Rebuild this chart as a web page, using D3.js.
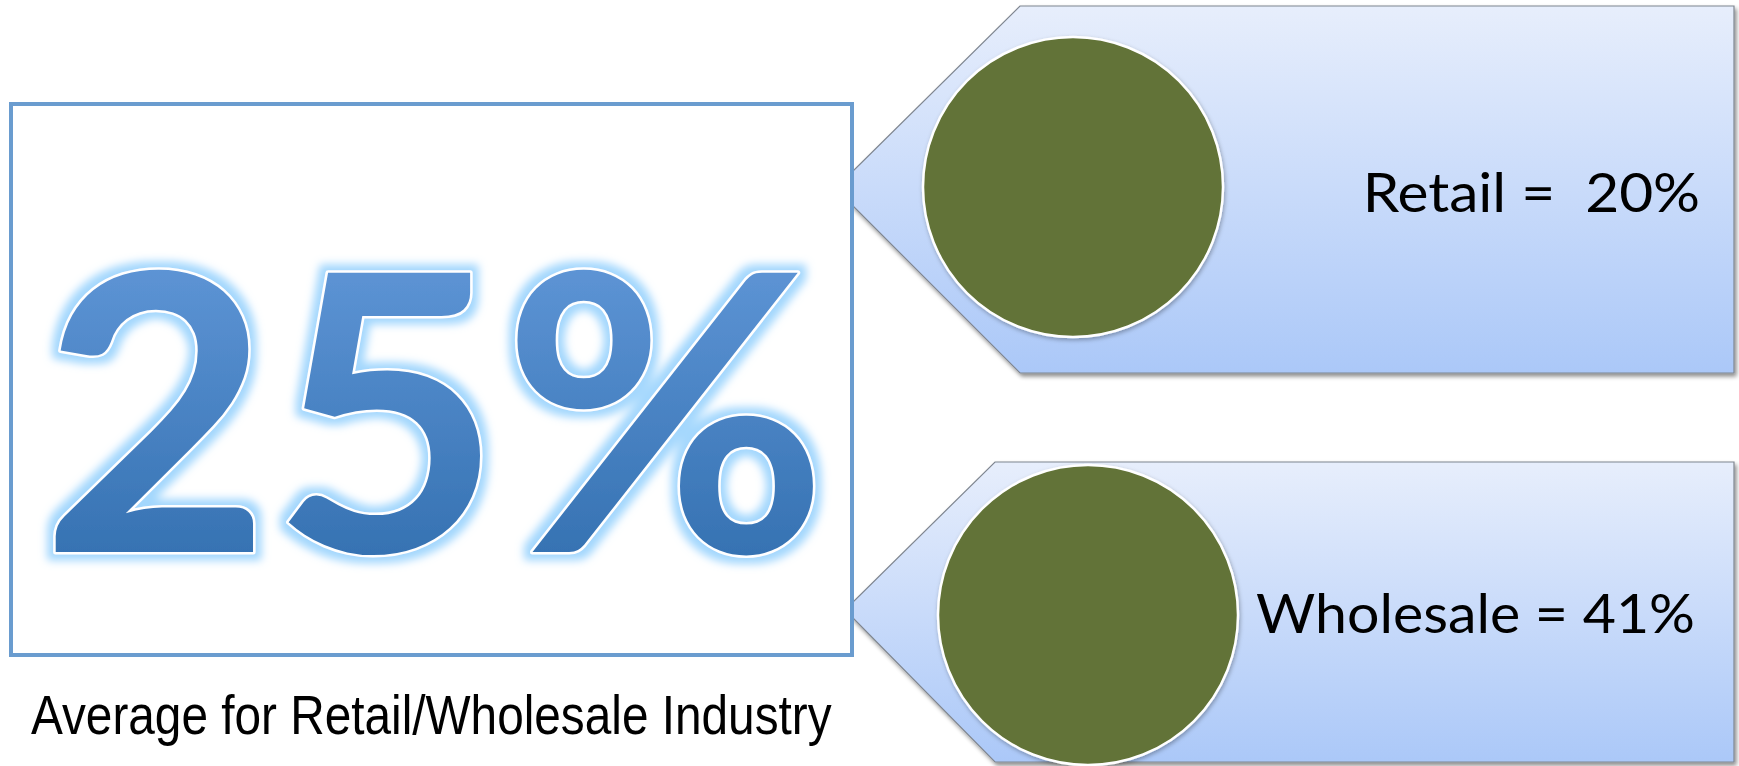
<!DOCTYPE html>
<html>
<head>
<meta charset="utf-8">
<script src="https://cdn.jsdelivr.net/npm/d3@7"></script>
<style>
  html, body { margin: 0; padding: 0; background: #fff; overflow: hidden; }
  svg { display: block; }
  text { white-space: pre; }
</style>
</head>
<body>
<svg id="chart" width="1739" height="766"></svg>
<script>
// ---- data ----
const segments = ["Retail", "Wholesale"];
const segmentRates = [20, 41];
const labelGaps = ["  ", " "];
const industryAverage = 25;
const averageCaption = "Average for Retail/Wholesale Industry";

// ---- layout ----
const W = 1739, H = 766;
const panel = { x: 11, y: 104, w: 841, h: 551 };
const bigNumber = { left: 53, right: 813, top: 270, baseline: 552 };
const caption = { left: 31, right: 832, baseline: 734, cap: 38 };
const callouts = [
  { left: 1020, right: 1734, top: 6, bottom: 373, tipTop: 172, tipBottom: 205,
    cx: 1073, cy: 187, r: 150, textLeft: 1368, textRight: 1698, baseline: 212, cap: 40 },
  { left: 995, right: 1734, top: 462, bottom: 762, tipTop: 603, tipBottom: 617,
    cx: 1088, cy: 615, r: 150, textLeft: 1256, textRight: 1693, baseline: 633, cap: 40 }
];

const rows = segments.map((name, i) => ({
  name, value: segmentRates[i],
  label: `${name} =${labelGaps[i]}${segmentRates[i]}%`,
  geo: callouts[i]
}));

// glyph ink metrics measured on a canvas, used to fit text to its box
const ctx = document.createElement("canvas").getContext("2d");
function ink(text, family, weight, size) {
  ctx.font = `${weight} ${size}px ${family}`;
  const m = ctx.measureText(text);
  return { left: m.actualBoundingBoxLeft, right: m.actualBoundingBoxRight,
           ascent: m.actualBoundingBoxAscent, descent: m.actualBoundingBoxDescent };
}
// place text so its ink spans [left,right] and a reference glyph has height `cap`
function fitText(sel, text, family, weight, capRef, cap, left, right, baseline) {
  const ref = ink(capRef, family, weight, 100);
  const size = cap / ref.ascent * 100;
  const m = ink(text, family, weight, size);
  const inkW = m.left + m.right;
  const sx = (right - left) / inkW;
  sel.attr("font-family", family)
     .attr("font-weight", weight)
     .attr("font-size", size)
     .attr("xml:space", "preserve")
     .attr("x", 0).attr("y", 0)
     .attr("transform", `translate(${left + m.left * sx},${baseline}) scale(${sx},1)`)
     .text(text);
  return sel;
}

const svg = d3.select("#chart");
const defs = svg.append("defs");

// gradients
const numGrad = defs.append("linearGradient").attr("id", "numGrad")
  .attr("x1", 0).attr("y1", 0).attr("x2", 0).attr("y2", 1);
numGrad.append("stop").attr("offset", "0%").attr("stop-color", "#6a9fe0");
numGrad.append("stop").attr("offset", "100%").attr("stop-color", "#2b69a9");

const calloutGrad = defs.append("linearGradient").attr("id", "calloutGrad")
  .attr("x1", 0).attr("y1", 0).attr("x2", 0).attr("y2", 1);
calloutGrad.append("stop").attr("offset", "0%").attr("stop-color", "#e7eefc");
calloutGrad.append("stop").attr("offset", "100%").attr("stop-color", "#abc8f8");

// soft outer glow around the big figure
const glow = defs.append("filter").attr("id", "glow")
  .attr("x", "-10%").attr("y", "-10%").attr("width", "120%").attr("height", "120%");
glow.append("feMorphology").attr("in", "SourceAlpha").attr("operator", "dilate")
  .attr("radius", 6).attr("result", "thick");
glow.append("feGaussianBlur").attr("in", "thick").attr("stdDeviation", 4).attr("result", "blur");
glow.append("feFlood").attr("flood-color", "#a3d7fd");
glow.append("feComposite").attr("in2", "blur").attr("operator", "in").attr("result", "halo");
const gm = glow.append("feMerge");
gm.append("feMergeNode").attr("in", "halo");
gm.append("feMergeNode").attr("in", "SourceGraphic");

// drop shadow for callouts
const shadow = defs.append("filter").attr("id", "shadow")
  .attr("x", "-5%").attr("y", "-5%").attr("width", "112%").attr("height", "115%");
shadow.append("feDropShadow").attr("dx", 2).attr("dy", 3).attr("stdDeviation", 2)
  .attr("flood-color", "#000").attr("flood-opacity", 0.45);

const circShadow = defs.append("filter").attr("id", "circShadow")
  .attr("x", "-10%").attr("y", "-10%").attr("width", "125%").attr("height", "125%");
circShadow.append("feDropShadow").attr("dx", 1).attr("dy", 2).attr("stdDeviation", 2)
  .attr("flood-color", "#000").attr("flood-opacity", 0.3);

// ---- callouts ----
const line = d3.line();
const rowG = svg.selectAll("g.callout").data(rows).join("g").attr("class", "callout");

rowG.append("path")
  .attr("d", d => {
    const g = d.geo, tipX = panel.x + panel.w;
    return line([[g.left, g.top], [g.right, g.top], [g.right, g.bottom], [g.left, g.bottom],
                 [tipX, g.tipBottom], [tipX, g.tipTop]]) + "Z";
  })
  .attr("fill", "url(#calloutGrad)")
  .attr("stroke", "#7f8690")
  .attr("stroke-width", 1.2)
  .attr("filter", "url(#shadow)");

rowG.append("circle")
  .attr("cx", d => d.geo.cx)
  .attr("cy", d => d.geo.cy)
  .attr("r", d => d.geo.r)
  .attr("fill", "#627337")
  .attr("stroke", "#ffffff")
  .attr("stroke-width", 2.5)
  .attr("filter", "url(#circShadow)");

rowG.append("text")
  .attr("fill", "#000")
  .each(function (d) {
    fitText(d3.select(this), d.label, "Lato", 400, "R", d.geo.cap,
            d.geo.textLeft, d.geo.textRight, d.geo.baseline);
  });

// ---- average panel ----
svg.append("rect")
  .attr("x", panel.x).attr("y", panel.y)
  .attr("width", panel.w).attr("height", panel.h)
  .attr("fill", "#ffffff")
  .attr("stroke", "#6a9ccf")
  .attr("stroke-width", 4);

const big = svg.append("text")
  .attr("fill", "url(#numGrad)")
  .attr("stroke", "#ffffff")
  .attr("stroke-width", 5)
  .attr("stroke-linejoin", "round")
  .attr("paint-order", "stroke")
  .attr("filter", "url(#glow)");
fitText(big, `${industryAverage}%`, "Lato", 700, "2",
        bigNumber.baseline - bigNumber.top, bigNumber.left, bigNumber.right, bigNumber.baseline);

const cap = svg.append("text").attr("fill", "#000");
fitText(cap, averageCaption, "'Liberation Sans', Arial, sans-serif", 400, "A",
        caption.cap, caption.left, caption.right, caption.baseline);
</script>
</body>
</html>
